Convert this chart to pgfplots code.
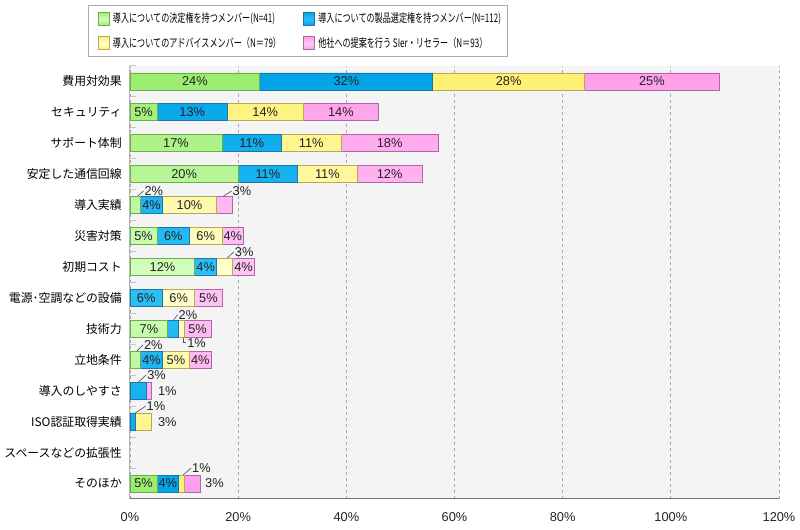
\documentclass[border=0pt]{standalone}
\usepackage{fontspec}
\setmainfont{Noto Sans CJK JP}
\newfontfamily\numfont{Liberation Sans}
\usepackage{pgfplots}
\pgfplotsset{compat=1.18}
\usepackage{pgfplotstable}

\definecolor{gO}{HTML}{9AEC6E}
\definecolor{gM}{HTML}{D4FFC0}
\definecolor{gE}{HTML}{6EAE48}
\definecolor{bO}{HTML}{00A4E6}
\definecolor{bM}{HTML}{2EC0F8}
\definecolor{bE}{HTML}{1A78A6}
\definecolor{yO}{HTML}{FFF070}
\definecolor{yM}{HTML}{FFFFD2}
\definecolor{yE}{HTML}{B8A858}
\definecolor{pO}{HTML}{FF9EEA}
\definecolor{pM}{HTML}{FFC6F5}
\definecolor{pE}{HTML}{A86AA4}
\definecolor{bg}{HTML}{F4F4F4}
\definecolor{gridc}{HTML}{A8A8A8}
\definecolor{axc}{HTML}{707070}
\definecolor{txt}{HTML}{222222}

% y = category position (13 = top), v = percent
\pgfplotstableread{
y v
13 24
12 5
11 17
10 20
9 2
8 5
7 12
6 0
5 7
4 2
3 0
2 0
1 0
0 5
}\tgreen
\pgfplotstableread{
y v
13 32
12 13
11 11
10 11
9 4
8 6
7 4
6 6
5 2
4 4
3 3
2 1
1 0
0 4
}\tblue
\pgfplotstableread{
y v
13 28
12 14
11 11
10 11
9 10
8 6
7 3
6 6
5 1
4 5
3 0
2 3
1 0
0 1
}\tyellow
\pgfplotstableread{
y v
13 25
12 14
11 18
10 12
9 3
8 4
7 4
6 5
5 5
4 4
3 1
2 0
1 0
0 3
}\tpink

\newcommand{\lf}{\fontsize{8.9}{10}\selectfont}
\newcommand{\nf}{\numfont\fontsize{9.6}{10}\selectfont}
\newcommand{\legtxt}[2]{\makebox[#1][l]{\scalebox{0.69}[1]{#2}}}
\tikzset{
  leader/.style={draw=gray!70!black, line width=0.5pt},
  olab/.style={anchor=west, inner sep=0.6pt, font=\nf, text=txt},
}

\begin{document}
\begin{tikzpicture}
\begin{axis}[
  at={(0,0)}, anchor=south west,
  scale only axis, width=486.75pt, height=324.75pt,
  xbar stacked, bar width=12.75pt,
  xmin=0, xmax=120, ymin=-0.5, ymax=13.5,
  axis x line=bottom, axis y line=left, axis line style={-},
  x axis line style={draw=axc, line width=0.75pt},
  y axis line style={draw=gray!60, line width=0.75pt},
  axis background/.style={fill=bg},
  xtick={0,20,...,120},
  xticklabel={\pgfmathprintnumber{\tick}\%},
  xmajorgrids, ymajorgrids=false,
  major grid style={draw=gridc, dash pattern=on 2.25pt off 2.25pt, line width=0.6pt},
  ytick={0,...,13},
  yticklabels={そのほか,スペースなどの拡張性,ISO認証取得実績,導入のしやすさ,立地条件,技術力,電源･空調などの設備,初期コスト,災害対策,導入実績,安定した通信回線,サポート体制,セキュリティ,費用対効果},
  minor ytick={-0.5,0.5,...,13.5},
  major tick length=0pt, minor tick length=4.5pt, tick align=inside,
  minor tick style={draw=gray!45, line width=0.75pt},
  xticklabel style={font=\nf, text=txt, anchor=base, inner sep=0pt, yshift=-16.9pt},
  yticklabel style={font=\lf, anchor=east, inner sep=0pt, xshift=-6pt, text=black},
  /pgf/number format/assume math mode=true,
  visualization depends on={\thisrow{v} \as \segw},
  nodes near coords={\pgfmathparse{\segw<3.5 ? 0 : 1}\ifnum\pgfmathresult>0 \pgfmathprintnumber{\segw}\%\fi},
  every node near coord/.append style={anchor=center, font=\nf, text=txt, inner sep=0pt},
  legend columns=2,
  legend cell align=left,
  legend image code/.code={\path[draw=none, fill=none, shade=false] (0pt,0pt) -- (11.25pt,0pt); \draw[#1] (0pt,-4.875pt) rectangle (8.25pt,4.875pt);},
  legend style={at={(-0.0647,1.1409)}, anchor=north west, draw=gray!65, line width=0.75pt, fill=white,
    font=\fontsize{8.8}{9}\selectfont, text=black, row sep=8pt, column sep=0pt,
    inner xsep=6.75pt, inner ysep=4.9pt, nodes={inner sep=0pt}},
]
\addplot[draw=gE, line width=0.6pt, top color=gO, bottom color=gO, middle color=gM] table[x=v, y=y]{\tgreen};
\addlegendentry{\legtxt{142.5pt}{導入についての決定権を持つメンバー(N=41)}}
\addplot[draw=bE, line width=0.6pt, top color=bO, bottom color=bO, middle color=bM] table[x=v, y=y]{\tblue};
\addlegendentry{\legtxt{135pt}{導入についての製品選定権を持つメンバー(N=112)}}
\addplot[draw=yE, line width=0.6pt, top color=yO, bottom color=yO, middle color=yM] table[x=v, y=y]{\tyellow};
\addlegendentry{\legtxt{142.5pt}{導入についてのアドバイスメンバー（N＝79）}}
\addplot[draw=pE, line width=0.6pt, top color=pO, bottom color=pO, middle color=pM] table[x=v, y=y]{\tpink};
\addlegendentry{\legtxt{135pt}{他社への提案を行う SIer・リセラー（N＝93）}}

% labels of small segments, with leader lines
\draw[leader] (axis cs:1.3,9.275) -- (axis cs:2.5,9.46);
\node[olab] at (axis cs:2.5,9.46) {2\%};
\draw[leader] (axis cs:17.1,9.275) -- (axis cs:18.8,9.46);
\node[olab] at (axis cs:18.8,9.46) {3\%};
\draw[leader] (axis cs:17.9,7.275) -- (axis cs:19.2,7.49);
\node[olab] at (axis cs:19.2,7.49) {3\%};
\draw[leader] (axis cs:8,5.275) -- (axis cs:8.8,5.46);
\node[olab] at (axis cs:8.8,5.46) {2\%};
\draw[leader] (axis cs:9.8,4.725) -- (axis cs:9.8,4.55) -- (axis cs:10.4,4.55);
\node[olab] at (axis cs:10.4,4.55) {1\%};
\draw[leader] (axis cs:1.2,4.275) -- (axis cs:2.4,4.48);
\node[olab] at (axis cs:2.4,4.48) {2\%};
\draw[leader] (axis cs:1.5,3.275) -- (axis cs:3.0,3.51);
\node[olab] at (axis cs:3.0,3.51) {3\%};
\node[olab] at (axis cs:5.0,3) {1\%};
\draw[leader] (axis cs:0.9,2.275) -- (axis cs:2.9,2.5);
\node[olab] at (axis cs:2.9,2.5) {1\%};
\node[olab] at (axis cs:5.0,2) {3\%};
\draw[leader] (axis cs:9.8,0.275) -- (axis cs:11.3,0.5);
\node[olab] at (axis cs:11.3,0.5) {1\%};
\node[olab] at (axis cs:13.7,0) {3\%};
\end{axis}
\pgfresetboundingbox
\path[use as bounding box] (-97.5pt,-23.25pt) rectangle (502.5pt,374.25pt);
\end{tikzpicture}
\end{document}
